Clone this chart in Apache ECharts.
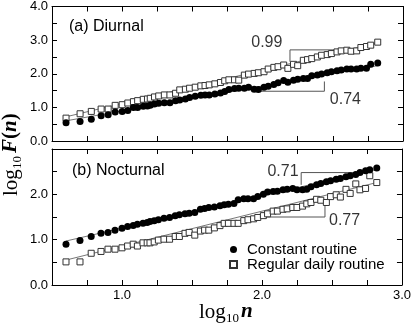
<!DOCTYPE html>
<html>
<head>
<meta charset="utf-8">
<script src="https://cdn.jsdelivr.net/npm/echarts@6/dist/echarts.min.js"></script>
<style>
    html, body { margin: 0; padding: 0; background: #fff; }
    #main { width: 414px; height: 330px; }
</style>
</head>
<body>
<div id="main"></div>
<script>
// log10 n 横坐标（两个面板共用）
var log_n = [0.60, 0.70, 0.78, 0.85, 0.90, 0.95, 1.00, 1.04, 1.08, 1.11, 1.15, 1.18, 1.20, 1.23, 1.26,
    1.30, 1.34, 1.38, 1.41, 1.45, 1.48, 1.52, 1.56, 1.59, 1.62, 1.66, 1.70, 1.73, 1.76, 1.80, 1.83,
    1.87, 1.90, 1.94, 1.97, 2.01, 2.04, 2.08, 2.11, 2.15, 2.18, 2.22, 2.25, 2.29, 2.32, 2.35, 2.39,
    2.42, 2.46, 2.49, 2.53, 2.56, 2.60, 2.63, 2.67, 2.70, 2.74, 2.77, 2.82];

// (a) Diurnal
var diurnal_constant = [0.54, 0.58, 0.65, 0.75, 0.78, 0.86, 0.88, 0.91, 1.00, 1.00, 1.03, 1.04, 1.06, 1.10, 1.12,
    1.14, 1.14, 1.20, 1.22, 1.25, 1.29, 1.33, 1.36, 1.37, 1.37, 1.40, 1.43, 1.47, 1.53, 1.56, 1.57,
    1.57, 1.60, 1.54, 1.53, 1.60, 1.63, 1.68, 1.73, 1.80, 1.75, 1.81, 1.84, 1.86, 1.86, 1.94, 1.96,
    1.99, 2.03, 2.06, 2.09, 2.11, 2.14, 2.14, 2.14, 2.16, 2.16, 2.28, 2.32];
var diurnal_regular = [0.68, 0.81, 0.88, 0.95, 0.95, 1.06, 1.08, 1.13, 1.17, 1.20, 1.24, 1.25, 1.27, 1.31, 1.34,
    1.37, 1.37, 1.42, 1.52, 1.54, 1.57, 1.60, 1.64, 1.65, 1.67, 1.70, 1.74, 1.79, 1.82, 1.82, 1.81,
    1.96, 1.99, 2.01, 2.03, 2.06, 2.14, 2.19, 2.21, 2.26, 2.16, 2.28, 2.24, 2.40, 2.42, 2.45, 2.50,
    2.55, 2.57, 2.60, 2.65, 2.68, 2.70, 2.67, 2.68, 2.78, 2.81, 2.85, 2.94];

// (b) Nocturnal
var nocturnal_constant = [0.90, 0.98, 1.07, 1.14, 1.16, 1.21, 1.25, 1.29, 1.31, 1.34, 1.36, 1.38, 1.40, 1.42, 1.44,
    1.47, 1.49, 1.53, 1.55, 1.57, 1.58, 1.60, 1.67, 1.69, 1.71, 1.72, 1.75, 1.77, 1.78, 1.80, 1.88,
    1.90, 1.90, 1.90, 1.95, 2.00, 2.05, 2.06, 2.07, 2.10, 2.11, 2.13, 2.10, 2.10, 2.11, 2.17, 2.21,
    2.24, 2.28, 2.30, 2.33, 2.35, 2.39, 2.41, 2.44, 2.48, 2.52, 2.54, 2.58];
var nocturnal_regular = [0.51, 0.51, 0.70, 0.74, 0.79, 0.79, 0.82, 0.86, 0.90, 0.86, 0.93, 0.93, 0.93, 0.95, 0.99,
    1.01, 1.01, 1.07, 1.07, 1.14, 1.16, 1.10, 1.19, 1.21, 1.21, 1.26, 1.31, 1.36, 1.36, 1.36, 1.36,
    1.42, 1.44, 1.46, 1.49, 1.53, 1.57, 1.63, 1.63, 1.67, 1.68, 1.71, 1.71, 1.74, 1.79, 1.82, 1.89,
    1.87, 1.82, 1.95, 1.99, 1.94, 2.11, 2.02, 2.23, 2.10, 2.13, 2.41, 2.26];

// 拟合直线
var fit_a_regular = [[0.60, 0.72], [2.82, 2.92]];
var fit_a_constant = [[0.60, 0.60], [2.82, 2.24]];
var fit_b_constant = [[0.60, 0.97], [2.82, 2.55]];
var fit_b_regular = [[0.60, 0.55], [2.82, 2.26]];

// 斜率三角标记
var bracket_a_upper = [[2.195, 2.36], [2.195, 2.71], [2.65, 2.71]];
var bracket_a_lower = [[1.93, 1.48], [2.44, 1.48], [2.44, 1.77]];
var bracket_b_upper = [[2.28, 2.21], [2.28, 2.48], [2.65, 2.48]];
var bracket_b_lower = [[2.03, 1.50], [2.45, 1.50], [2.45, 1.82]];

var slope_a = [{ name: '0.99', value: [2.03, 2.94] }, { name: '0.74', value: [2.59, 1.22] }];
var slope_b = [{ name: '0.71', value: [2.15, 2.50] }, { name: '0.77', value: [2.59, 1.41] }];

var legend_names = ['Constant routine', 'Regular daily routine'];
var panel_titles = ['(a) Diurnal', '(b) Nocturnal'];

function pair(xs, ys) {
    return xs.map(function(x, i) { return [x, ys[i]]; });
}

var sans = 'Liberation Sans';
var serif = 'Liberation Serif';

function xAxisOf(gridIndex, position, showLabel) {
    return {
        type: 'value',
        gridIndex: gridIndex,
        position: position,
        min: 0.5,
        max: 3.0,
        interval: 0.25,
        axisLine: { show: true, onZero: false, lineStyle: { color: '#000', width: 1 } },
        axisTick: { show: true, inside: true, length: 5, lineStyle: { color: '#000' } },
        axisLabel: {
            show: showLabel,
            color: '#000',
            fontSize: 13,
            fontFamily: sans,
            margin: 4,
            formatter: function(v) { return (v % 1 === 0 && v >= 1) ? v.toFixed(1) : ''; }
        },
        splitLine: { show: false }
    };
}

function yAxisOf(gridIndex, position, max, showLabel) {
    return {
        type: 'value',
        gridIndex: gridIndex,
        position: position,
        min: 0,
        max: max,
        interval: 0.5,
        axisLine: { show: true, onZero: false, lineStyle: { color: '#000', width: 1 } },
        axisTick: { show: true, inside: true, length: 5, lineStyle: { color: '#000' } },
        axisLabel: {
            show: showLabel,
            color: '#000',
            fontSize: 13,
            fontFamily: sans,
            margin: 4,
            formatter: function(v) {
                // 下面板顶端的 3.0 不显示
                if (v % 1 !== 0) return '';
                if (max === 3 && v === 3) return '';
                return v.toFixed(1);
            }
        },
        splitLine: { show: false }
    };
}

function lineSeries(data, xi, color) {
    return {
        type: 'line',
        xAxisIndex: xi,
        yAxisIndex: xi,
        data: data,
        symbol: 'none',
        silent: true,
        lineStyle: { color: color, width: 1 },
        z: 1
    };
}

function squareSeries(data, xi) {
    return {
        name: legend_names[1],
        type: 'scatter',
        xAxisIndex: xi,
        yAxisIndex: xi,
        data: data,
        symbol: 'rect',
        symbolSize: 6,
        itemStyle: { color: '#fff', borderColor: '#333', borderWidth: 1, opacity: 1 },
        z: 3
    };
}

function circleSeries(data, xi) {
    return {
        name: legend_names[0],
        type: 'scatter',
        xAxisIndex: xi,
        yAxisIndex: xi,
        data: data,
        symbol: 'circle',
        symbolSize: 7,
        itemStyle: { color: '#000', opacity: 1 },
        z: 4
    };
}

function slopeSeries(data, xi) {
    return {
        type: 'scatter',
        xAxisIndex: xi,
        yAxisIndex: xi,
        data: data,
        symbolSize: 0,
        silent: true,
        label: {
            show: true,
            position: 'inside',
            formatter: '{b}',
            color: '#000',
            fontSize: 16,
            fontFamily: sans
        }
    };
}

// 轴标题：log + 下标10 + 主体，分开摆放
function axisTitle(x, y, rotation, body) {
    return {
        type: 'group',
        x: x,
        y: y,
        rotation: rotation,
        children: [
            { type: 'text', x: -body.half, y: 0, style: { text: 'log', fontSize: 21, fontFamily: serif, verticalAlign: 'middle', fill: '#000' } },
            { type: 'text', x: -body.half + 27, y: 7, style: { text: '10', fontSize: 13, fontFamily: serif, verticalAlign: 'middle', fill: '#000' } },
            {
                type: 'text', x: -body.half + 27 + 13 + body.gap, y: 0,
                style: {
                    text: body.text,
                    verticalAlign: 'middle',
                    fill: '#000',
                    rich: {
                        bi: { fontSize: 21, fontFamily: serif, fontWeight: 'bold', fontStyle: 'italic' },
                        b: { fontSize: 21, fontFamily: serif, fontWeight: 'bold' }
                    }
                }
            }
        ]
    };
}

var myChart = echarts.init(document.getElementById('main'));
var option = {
    animation: false,
    backgroundColor: '#fff',
    grid: [
        { left: 52, right: 11, top: 6, height: 135 },
        { left: 52, right: 11, top: 149, height: 136 }
    ],
    xAxis: [
        xAxisOf(0, 'bottom', false),
        xAxisOf(0, 'top', false),
        xAxisOf(1, 'bottom', true),
        xAxisOf(1, 'top', false)
    ],
    yAxis: [
        yAxisOf(0, 'left', 4, true),
        yAxisOf(0, 'right', 4, false),
        yAxisOf(1, 'left', 3, true),
        yAxisOf(1, 'right', 3, false)
    ],
    title: [
        { text: panel_titles[0], left: 69, top: 19, padding: 0, textStyle: { fontSize: 16, fontWeight: 'normal', fontFamily: sans, color: '#000' } },
        { text: panel_titles[1], left: 72, top: 163, padding: 0, textStyle: { fontSize: 16, fontWeight: 'normal', fontFamily: sans, color: '#000' } }
    ],
    legend: {
        data: legend_names,
        orient: 'vertical',
        left: 229,
        top: 242,
        padding: 0,
        itemWidth: 7,
        itemHeight: 7,
        itemGap: 0,
        textStyle: { fontSize: 15, fontFamily: sans, color: '#000', padding: [0, 0, 0, 5] }
    },
    graphic: [
        // 纵轴标题 log10 F(n)
        axisTitle(11, 153, Math.PI / 2, { text: '{bi|F}{b|(}{bi|n}{b|)}', half: 43, gap: 3 }),
        // 横轴标题 log10 n
        axisTitle(228, 312, 0, { text: '{bi|n}', half: 29, gap: 2 })
    ],
    series: [
        lineSeries(fit_a_regular, 0, '#777'),
        lineSeries(fit_a_constant, 0, '#777'),
        lineSeries(bracket_a_upper, 0, '#555'),
        lineSeries(bracket_a_lower, 0, '#555'),
        squareSeries(pair(log_n, diurnal_regular), 0),
        circleSeries(pair(log_n, diurnal_constant), 0),
        slopeSeries(slope_a, 0),

        lineSeries(fit_b_constant, 2, '#777'),
        lineSeries(fit_b_regular, 2, '#777'),
        lineSeries(bracket_b_upper, 2, '#555'),
        lineSeries(bracket_b_lower, 2, '#555'),
        squareSeries(pair(log_n, nocturnal_regular), 2),
        circleSeries(pair(log_n, nocturnal_constant), 2),
        slopeSeries(slope_b, 2)
    ]
};
myChart.setOption(option);
</script>
</body>
</html>
